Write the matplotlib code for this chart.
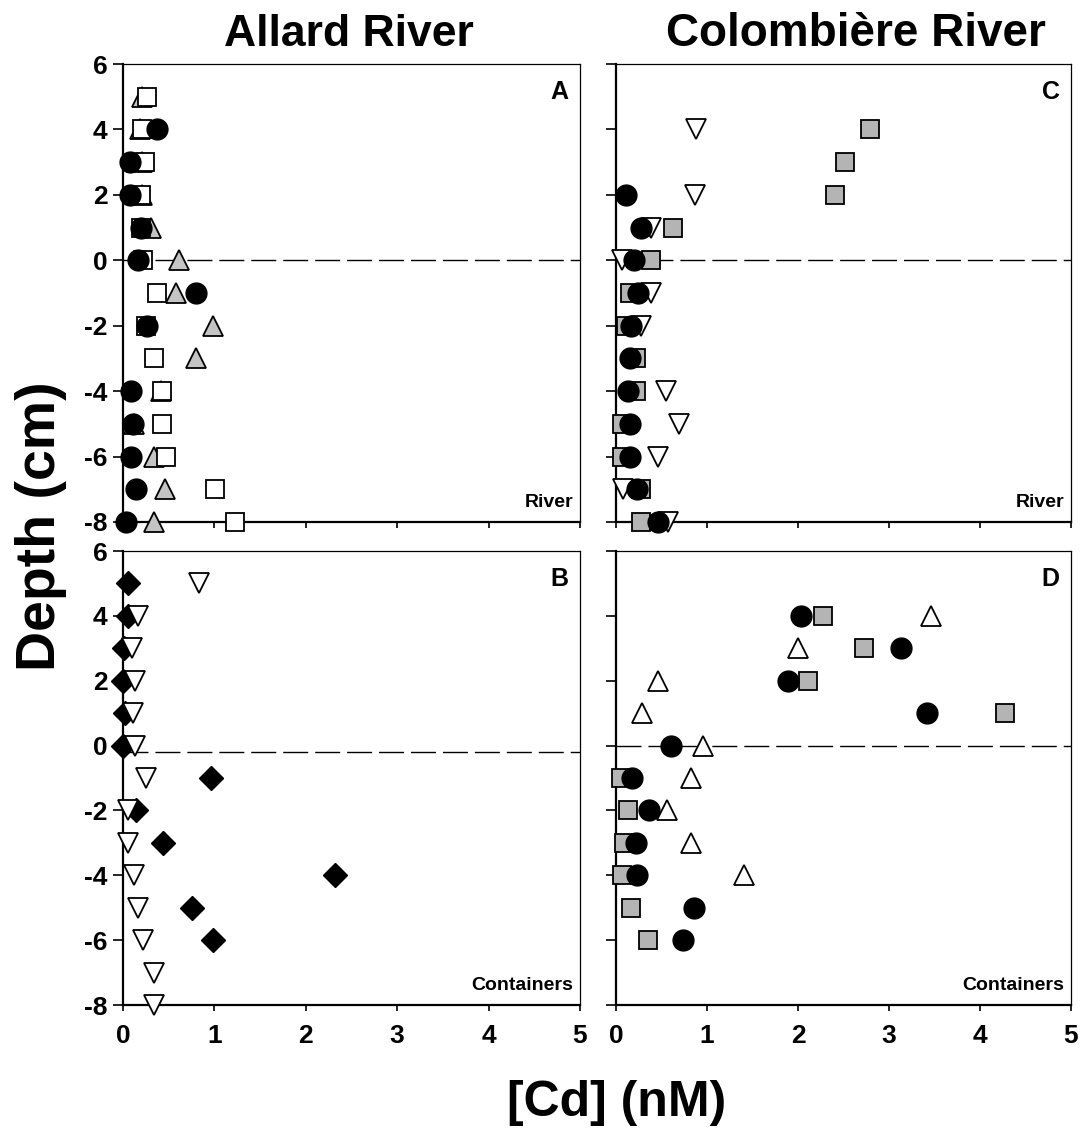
import numpy as np
import matplotlib
matplotlib.use('Agg')
import matplotlib.pyplot as plt

plt.rcParams['font.family'] = ['Liberation Sans', 'DejaVu Sans']
plt.rcParams['font.weight'] = 'bold'
plt.rcParams['axes.unicode_minus'] = False

# Panel A - Allard River, river sites
a_circ_depth = [4, 3, 2, 1, 0, -1, -2, -4, -5, -6, -7, -8]
a_circ_cd = [0.37, 0.08, 0.08, 0.20, 0.16, 0.80, 0.26, 0.09, 0.11, 0.09, 0.14, 0.03]
a_sq_depth = [5, 4, 3, 2, 1, 0, -1, -2, -3, -4, -5, -6, -7, -8]
a_sq_cd = [0.26, 0.21, 0.24, 0.20, 0.20, 0.22, 0.37, 0.25, 0.34, 0.43, 0.43, 0.47, 1.01, 1.23]
a_tri_depth = [5, 4, 3, 2, 1, 0, -1, -2, -3, -4, -5, -6, -7, -8]
a_tri_cd = [0.21, 0.19, 0.21, 0.21, 0.31, 0.61, 0.58, 0.98, 0.80, 0.42, 0.12, 0.34, 0.46, 0.34]

# Panel B - Allard River, containers
b_dia_depth = [5, 4, 3, 2, 1, 0, -1, -2, -3, -4, -5, -6]
b_dia_cd = [0.05, 0.05, 0.01, 0.00, 0.02, 0.00, 0.96, 0.14, 0.44, 2.32, 0.75, 0.99]
b_dtri_depth = [5, 4, 3, 2, 1, 0, -1, -2, -3, -4, -5, -6, -7, -8]
b_dtri_cd = [0.83, 0.16, 0.10, 0.13, 0.11, 0.13, 0.25, 0.05, 0.05, 0.12, 0.16, 0.22, 0.34, 0.34]

# Panel C - Colombiere River, river sites
c_circ_depth = [2, 1, 0, -1, -2, -3, -4, -5, -6, -7, -8]
c_circ_cd = [0.11, 0.27, 0.20, 0.24, 0.16, 0.15, 0.13, 0.15, 0.15, 0.23, 0.46]
c_sq_depth = [4, 3, 2, 1, 0, -1, -2, -3, -4, -5, -6, -7, -8]
c_sq_cd = [2.79, 2.52, 2.41, 0.63, 0.38, 0.15, 0.11, 0.22, 0.22, 0.07, 0.07, 0.27, 0.27]
c_dtri_depth = [4, 2, 1, 0, -1, -2, -4, -5, -6, -7, -8]
c_dtri_cd = [0.88, 0.87, 0.39, 0.07, 0.38, 0.27, 0.55, 0.69, 0.46, 0.08, 0.57]

# Panel D - Colombiere River, containers
d_circ_depth = [4, 3, 2, 1, 0, -1, -2, -3, -4, -5, -6]
d_circ_cd = [2.03, 3.13, 1.89, 3.42, 0.61, 0.18, 0.36, 0.22, 0.23, 0.86, 0.74]
d_sq_depth = [4, 3, 2, 1, -1, -2, -3, -4, -5, -6]
d_sq_cd = [2.28, 2.73, 2.11, 4.28, 0.05, 0.13, 0.09, 0.07, 0.17, 0.35]
d_tri_depth = [4, 3, 2, 1, 0, -1, -2, -3, -4]
d_tri_cd = [3.46, 2.00, 0.46, 0.29, 0.96, 0.83, 0.56, 0.83, 1.41]

x_ticks = [0, 1, 2, 3, 4, 5]
y_ticks = [-8, -6, -4, -2, 0, 2, 4, 6]

fig = plt.figure(figsize=(10.9, 11.31), dpi=100)
ax_a = fig.add_axes([0.1128, 0.5385, 0.4193, 0.4049])
ax_b = fig.add_axes([0.1128, 0.1114, 0.4193, 0.4014])
ax_c = fig.add_axes([0.5651, 0.5385, 0.4174, 0.4049])
ax_d = fig.add_axes([0.5651, 0.1114, 0.4174, 0.4014])

circ = dict(marker='o', ms=15, mfc='black', mec='black', ls='none', clip_on=False)
sq_white = dict(marker='s', ms=13, mfc='white', mec='black', mew=1.3, ls='none', clip_on=False)
sq_gray = dict(marker='s', ms=13, mfc='#b4b4b4', mec='black', mew=1.3, ls='none', clip_on=False)
tri_gray = dict(marker='^', ms=15, mfc='#c4c4c4', mec='black', mew=1.3, ls='none', clip_on=False)
tri_white = dict(marker='^', ms=15, mfc='white', mec='black', mew=1.3, ls='none', clip_on=False)
dtri_white = dict(marker='v', ms=15, mfc='white', mec='black', mew=1.3, ls='none', clip_on=False)
dia = dict(marker='D', ms=12.5, mfc='black', mec='black', ls='none', clip_on=False)

# A
ax_a.plot(a_tri_cd, a_tri_depth, **tri_gray, zorder=3)
ax_a.plot(a_sq_cd, a_sq_depth, **sq_white, zorder=4)
ax_a.plot(a_circ_cd, a_circ_depth, **circ, zorder=5)
# B
ax_b.plot(b_dia_cd, b_dia_depth, **dia, zorder=3)
ax_b.plot(b_dtri_cd, b_dtri_depth, **dtri_white, zorder=4)
# C
ax_c.plot(c_sq_cd, c_sq_depth, **sq_gray, zorder=3)
ax_c.plot(c_dtri_cd, c_dtri_depth, **dtri_white, zorder=4)
ax_c.plot(c_circ_cd, c_circ_depth, **circ, zorder=5)
# D
ax_d.plot(d_sq_cd, d_sq_depth, **sq_gray, zorder=3)
ax_d.plot(d_circ_cd, d_circ_depth, **circ, zorder=4)
ax_d.plot(d_tri_cd, d_tri_depth, **tri_white, zorder=5)

dash_y = {ax_a: 0, ax_b: -0.2, ax_c: 0, ax_d: 0}
letters = {ax_a: 'A', ax_b: 'B', ax_c: 'C', ax_d: 'D'}
sub = {ax_a: 'River', ax_b: 'Containers', ax_c: 'River', ax_d: 'Containers'}

for ax in (ax_a, ax_b, ax_c, ax_d):
    ax.set_xlim(0, 5)
    ax.set_ylim(-8, 6)
    ax.axhline(dash_y[ax], color='black', lw=1.0, dashes=(18, 5), zorder=1)
    ax.set_xticks(x_ticks)
    ax.set_yticks(y_ticks)
    ax.tick_params(axis='y', direction='out', length=7, width=1.2, labelsize=19, pad=4)
    ax.tick_params(axis='x', direction='out', length=4, width=1.2, labelsize=19, pad=10)
    ax.spines['left'].set_linewidth(1.6)
    ax.spines['bottom'].set_linewidth(1.6)
    ax.spines['top'].set_linewidth(0.9)
    ax.spines['right'].set_linewidth(0.9)
    ax.text(0.975, 0.965, letters[ax], transform=ax.transAxes, ha='right', va='top',
            fontsize=18, fontweight='bold')
    ax.text(0.985, 0.025, sub[ax], transform=ax.transAxes, ha='right', va='bottom',
            fontsize=14, fontweight='bold')
    for lab in ax.get_xticklabels() + ax.get_yticklabels():
        lab.set_fontweight('bold')

ax_a.tick_params(axis='x', labelbottom=False)
ax_c.tick_params(axis='x', labelbottom=False)
ax_c.tick_params(axis='y', labelleft=False)
ax_d.tick_params(axis='y', labelleft=False)

fig.text(0.32, 0.9695, 'Allard River', ha='center', va='center', fontsize=32, fontweight='bold')
fig.text(0.785, 0.9695, 'Colombière River', ha='center', va='center', fontsize=33, fontweight='bold')
fig.text(0.038, 0.535, 'Depth (cm)', ha='center', va='center', rotation=90,
         fontsize=40, fontweight='bold')
fig.text(0.566, 0.025, '[Cd] (nM)', ha='center', va='center', fontsize=36, fontweight='bold')

fig.savefig('out.png', dpi=100)
